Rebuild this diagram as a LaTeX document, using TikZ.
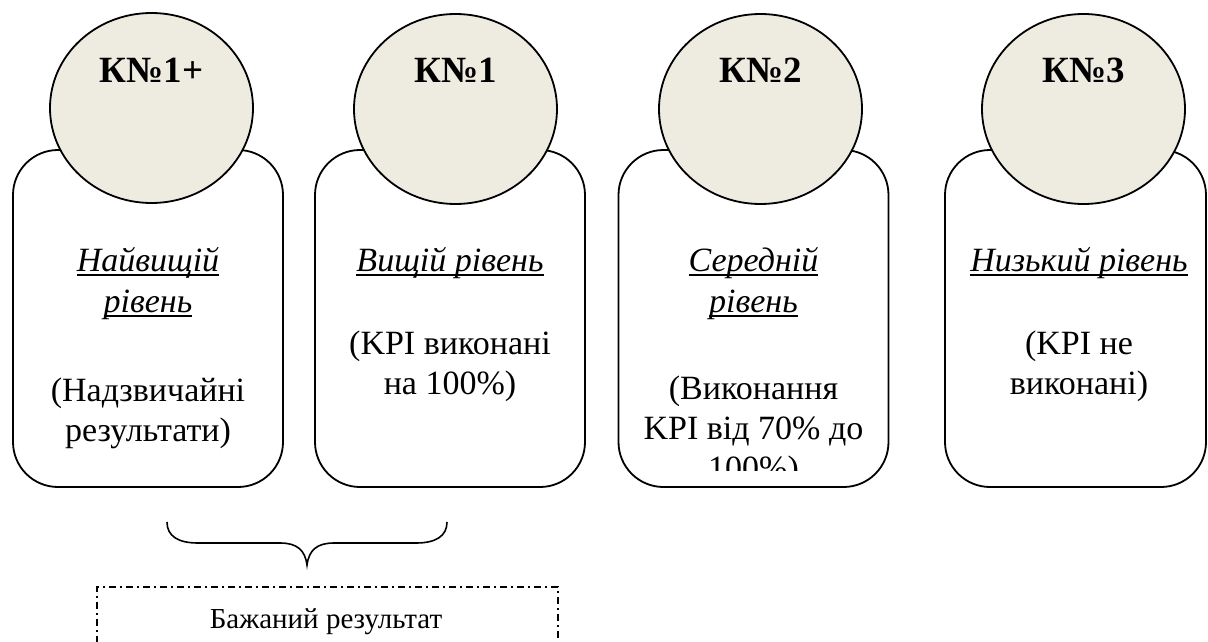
\documentclass[tikz,border=0pt]{standalone}
\usepackage{fontspec}
\setmainfont{Liberation Serif}
\usetikzlibrary{shapes.geometric}
\definecolor{circfill}{HTML}{EEECE1}
\newcommand\ulx[1]{\leavevmode\setbox0\hbox{#1}\rlap{\raisebox{-4.5pt}{\rule{\wd0}{1.8pt}}}\box0}
\begin{document}
\begin{tikzpicture}[x=1pt,y=-1pt,
 lvlbox/.style={draw, line width=1.8pt, rounded corners=45pt, minimum width=270pt, minimum height=337pt, inner sep=0pt},
 knode/.style={ellipse, draw, line width=1.8pt, fill=circfill, minimum width=203pt, minimum height=190pt, inner sep=0pt},
 ktitle/.style={anchor=base, font=\fontsize{37}{40}\selectfont\bfseries, inner sep=0pt},
 lbl/.style={anchor=base, font=\fontsize{34}{40}\selectfont\itshape, inner sep=0pt},
 txt/.style={anchor=base, font=\fontsize{34}{40}\selectfont, inner sep=0pt},
 goaltxt/.style={anchor=base, font=\fontsize{29}{34}\selectfont, inner sep=0pt},
 dashbox/.style={draw, line width=1.5pt, dash pattern=on 7pt off 4pt on 2pt off 4pt, inner sep=0pt},
 bracepath/.style={draw, line width=1.6pt},
]
\useasboundingbox (0,0) rectangle (1208,642);
\clip (0,0) rectangle (1208,642);

% boxes
\node[lvlbox] (b1) at (148,318.5) {};
\node[lvlbox] (b2) at (450,318.5) {};
\node[lvlbox] (b3) at (753.5,318.5) {};
\node[lvlbox, minimum width=261pt] (b4) at (1075.5,318.5) {};

% circles
\node[knode] (c1) at (151.5,108) {};
\node[knode] (c2) at (455.5,109) {};
\node[knode] (c3) at (760.5,109) {};
\node[knode] (c4) at (1083.5,109) {};

\node[ktitle] (t1) at (151.5,83) {К№1+};
\node[ktitle] (t2) at (455.5,83) {К№1};
\node[ktitle] (t3) at (760.5,83) {К№2};
\node[ktitle] (t4) at (1083.5,83) {К№3};

% box 1
\node[lbl] (l1a) at (148,271) {\ulx{Найвищій}};
\node[lbl] (l1b) at (148,312) {\ulx{рівень}};
\node[txt] (x1a) at (148,401) {(Надзвичайні};
\node[txt] (x1b) at (148,441) {результати)};

% box 2
\node[lbl] (l2a) at (450,271) {\ulx{Вищій рівень}};
\node[txt] (x2a) at (450,354) {(KPI виконані};
\node[txt] (x2b) at (450,394) {на 100\%)};

% box 3
\node[lbl] (l3a) at (753.5,271) {\ulx{Середній}};
\node[lbl] (l3b) at (753.5,312) {\ulx{рівень}};
\node[txt] (x3a) at (753.5,399) {(Виконання};
\node[txt] (x3b) at (753.5,439) {KPI від 70\% до};
\begin{scope}
\clip (600,0) rectangle (900,470);
\node[txt] (x3c) at (753.5,479) {100\%)};
\end{scope}

% box 4
\node[lbl] (l4a) at (1079,271) {\ulx{Низький рівень}};
\node[txt] (x4a) at (1079,354) {(KPI не};
\node[txt] (x4b) at (1079,394) {виконані)};

% brace
\coordinate (brL) at (167,522);
\coordinate (brR) at (447,522);
\coordinate (brT) at (307,565);
\draw[bracepath] (brL) .. controls (167,536) and (178,543) .. (198,543)
  -- (280,543) .. controls (297,543) and (305,550) .. (brT)
  .. controls (309,550) and (317,543) .. (334,543)
  -- (416,543) .. controls (436,543) and (447,536) .. (brR);

% desired result box
\node[dashbox, minimum width=461pt, minimum height=100pt, anchor=north west] (goal) at (96,586) {};
\node[goaltxt] (gt) at (326,628) {Бажаний результат};
\end{tikzpicture}
\end{document}
